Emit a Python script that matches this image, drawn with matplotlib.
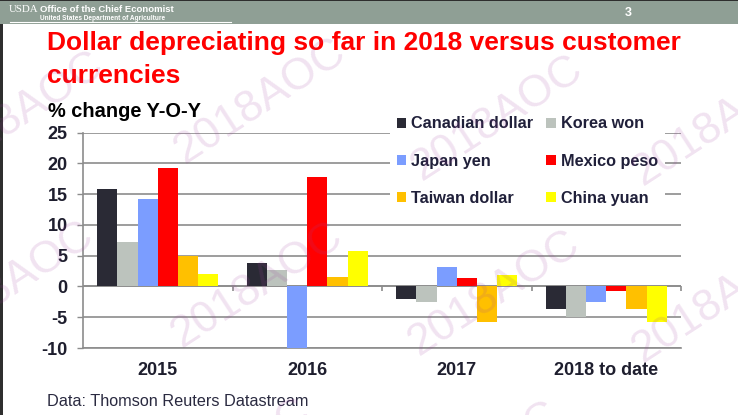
import numpy as np
import matplotlib
matplotlib.use('Agg')
import matplotlib.pyplot as plt
from matplotlib.patches import Rectangle, Patch

plt.rcParams['font.family'] = ['Liberation Sans', 'DejaVu Sans']

# data
years = ['2015', '2016', '2017', '2018 to date']
currencies = ['Canadian dollar', 'Korea won', 'Japan yen', 'Mexico peso', 'Taiwan dollar', 'China yuan']
colors = ['#2a2a35', '#bcc3bd', '#7b9dff', '#ff0000', '#ffc000', '#ffff00']
canadian = [15.8, 3.75, -2.05, -3.7]
korea = [7.3, 2.6, -2.6, -5.0]
japan = [14.3, -10.1, 3.1, -2.45]
mexico = [19.25, 17.8, 1.3, -0.75]
taiwan = [4.95, 1.6, -5.7, -3.7]
china = [2.1, 5.7, 1.8, -5.7]
series = [canadian, korea, japan, mexico, taiwan, china]
yticks = [-10, -5, 0, 5, 10, 15, 20, 25]

W, H = 738, 415
fig = plt.figure(figsize=(W / 100, H / 100), dpi=100)

# slide header band
fig.patches.append(Rectangle((0, 1 - 24 / H), 1, 24 / H, transform=fig.transFigure,
                             facecolor='#8f9f95', edgecolor='none', zorder=0))
fig.patches.append(Rectangle((0, 1 - 1.5 / H), 1, 1.5 / H, transform=fig.transFigure,
                             facecolor='#2e2e2e', edgecolor='none', zorder=1))
fig.patches.append(Rectangle((0, 0), 2.5 / W, 1 - 24 / H, transform=fig.transFigure,
                             facecolor='#2e2e2e', edgecolor='none', zorder=1))
fig.lines.append(plt.Line2D([10 / W, 231 / W], [1 - 22.5 / H, 1 - 22.5 / H],
                            transform=fig.transFigure, color='white', lw=0.8))
fig.text(9 / W, 1 - 11.5 / H, 'USDA', color='white', fontsize=7.8, family='Liberation Serif',
         va='baseline')
fig.text(40 / W, 1 - 12 / H, 'Office of the Chief Economist', color='white', fontsize=6.8,
         fontweight='bold', va='baseline')
fig.text(40 / W, 1 - 19.5 / H, 'United States Department of Agriculture', color='white',
         fontsize=4.7, fontweight='bold', va='baseline')
fig.text(628 / W, 1 - 13 / H, '3', color='white', fontsize=9, fontweight='bold',
         ha='center', va='center')

# title
fig.text(47 / W, 1 - 50 / H, 'Dollar depreciating so far in 2018 versus customer',
         color='#ff0000', fontsize=19, fontweight='bold', va='baseline')
fig.text(47 / W, 1 - 83 / H, 'currencies', color='#ff0000', fontsize=19,
         fontweight='bold', va='baseline')
fig.text(48 / W, 1 - 117 / H, '% change Y-O-Y', color='black', fontsize=14.4,
         fontweight='bold', va='baseline')
fig.text(47 / W, 1 - 406 / H, 'Data: Thomson Reuters Datastream', color='#2a2a40',
         fontsize=11.7, va='baseline')

ax = fig.add_axes([83 / W, 1 - 348 / H, 598 / W, 215.3 / H])
x = np.arange(1, len(years) + 1)
bw = 0.135
for i, (name, vals) in enumerate(zip(currencies, series)):
    ax.bar(x + (i - 2.5) * bw, vals, width=bw, color=colors[i], label=name, zorder=3)

ax.set_xlim(0.5, len(years) + 0.5)
ax.set_ylim(-10, 25)
ax.set_yticks(yticks)
ax.set_yticklabels([str(t) for t in yticks])
ax.set_xticks(x)
ax.set_xticklabels(years)
ax.tick_params(axis='x', length=0, pad=10, labelsize=13, labelcolor='#1e1e2e')
ax.tick_params(axis='y', length=4, width=1, color='#8c8c8c', pad=7, labelsize=13,
               labelcolor='#1e1e2e')
for lab in ax.get_xticklabels() + ax.get_yticklabels():
    lab.set_fontweight('bold')
ax.grid(axis='y', color='#8c8c8c', lw=1.2, zorder=1)
for s in ['top', 'right']:
    ax.spines[s].set_visible(False)
ax.spines['left'].set_color('#8c8c8c')
ax.spines['bottom'].set_color('#8c8c8c')
ax.spines['left'].set_linewidth(1.2)
ax.spines['bottom'].set_linewidth(1.2)
ax.axhline(0, color='#8c8c8c', lw=1.2, zorder=2)
ax.vlines(np.arange(1.5, len(years) + 1, 1.0), -0.8, 0, color='#8c8c8c', lw=1.2, zorder=2,
          clip_on=False)

# legend, row-wise order for 2 columns
order = [0, 2, 4, 1, 3, 5]
handles = [Patch(facecolor=colors[i], edgecolor='none') for i in order]
labels = [currencies[i] for i in order]
leg = fig.legend(handles, labels, ncol=2, loc='upper left', bbox_to_anchor=(390 / W, 1 - 110 / H),
                 bbox_transform=fig.transFigure, borderaxespad=0, frameon=True,
                 facecolor='white', edgecolor='none', framealpha=1, fancybox=False,
                 handlelength=0.6, handleheight=0.6, handletextpad=0.3, columnspacing=0.8,
                 labelspacing=1.37, borderpad=0.4,
                 prop={'size': 11.7, 'weight': 'bold'})
for t in leg.get_texts():
    t.set_color('#20203a')

# 2018AOC watermark
marks = [(18, 114), (260, 101), (497, 118), (718, 123),
         (8, 284), (257, 285), (494, 293), (718, 300),
         (225, 461), (474, 464), (712, 468)]
for mx, my in marks:
    fig.text(mx / W, 1 - my / H, '2018AOC', fontsize=32, color='#a040a0', alpha=0.15,
             rotation=33, ha='center', va='center', rotation_mode='anchor', zorder=10)

fig.savefig('out.png', dpi=100)
